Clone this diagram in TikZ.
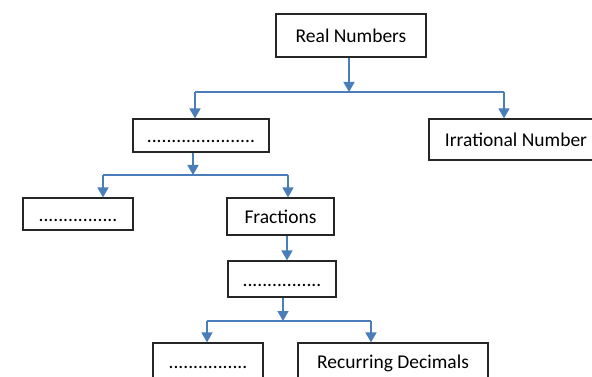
\documentclass[tikz,border=0pt]{standalone}
\usepackage{fontspec}
\setmainfont{Carlito}
\usepackage{tikz}
\usetikzlibrary{arrows.meta,calc}
\definecolor{linkblue}{RGB}{74,126,187}

\begin{document}
\begin{tikzpicture}[x=1pt,y=-1pt,
  box/.style={draw=black!85, line width=1.2pt, rectangle, inner sep=0pt,
    text height=16pt, text depth=2pt,
    font=\fontsize{19.5}{23}\selectfont},
  link/.style={draw=linkblue, line width=1.6pt, -{Triangle[width=11pt,length=10pt]}},
  bus/.style={draw=linkblue, line width=1.6pt}]

 \useasboundingbox (0,0) rectangle (592,377);
 \clip (0,0) rectangle (592,377);



 \node (real) at (351,35.5) [box, minimum width=150pt, minimum height=43pt] {Real Numbers};

 \node (rat) at (201,135.5) [box, minimum width=136pt, minimum height=33pt] {......................};
 \node (irr) at (516,139.5) [box, minimum width=174pt, minimum height=41pt] {Irrational Number};

 \node (int) at (78,214) [box, minimum width=110pt, minimum height=32pt] {................};
 \node (frac) at (280.5,216.5) [box, minimum width=107pt, minimum height=37pt] {Fractions};

 \node (dec) at (282,279) [box, minimum width=108pt, minimum height=36pt] {................};

 \node (term) at (208,361) [box, minimum width=110pt, minimum height=36pt] {................};
 \node (rec) at (393,361) [box, minimum width=190pt, minimum height=36pt] {Recurring Decimals};



 % first split
 \coordinate (b1m) at (349,92);
 \coordinate (b1l) at (195,92);
 \coordinate (b1r) at (504,92);
 \draw [link] (b1m |- real.south) -- (b1m);
 \draw [bus] (b1l) -- (b1r);
 \draw [link] (b1l) -- (b1l |- rat.north);
 \draw [link] (b1r) -- (b1r |- irr.north);

 % second split
 \coordinate (b2m) at (193,175);
 \coordinate (b2l) at (103,175);
 \coordinate (b2r) at (288,175);
 \draw [link] (b2m |- rat.south) -- (b2m);
 \draw [bus] (b2l) -- (b2r);
 \draw [link] (b2l) -- (b2l |- int.north);
 \draw [link] (b2r) -- (b2r |- frac.north);

 \coordinate (f) at (287,0);
 \draw [link] (f |- frac.south) -- (f |- dec.north);

 % third split
 \coordinate (b3m) at (283,321);
 \coordinate (b3l) at (207,321);
 \coordinate (b3r) at (371,321);
 \draw [link] (b3m |- dec.south) -- (b3m);
 \draw [bus] (b3l) -- (b3r);
 \draw [link] (b3l) -- (b3l |- term.north);
 \draw [link] (b3r) -- (b3r |- rec.north);

\end{tikzpicture}
\end{document}
